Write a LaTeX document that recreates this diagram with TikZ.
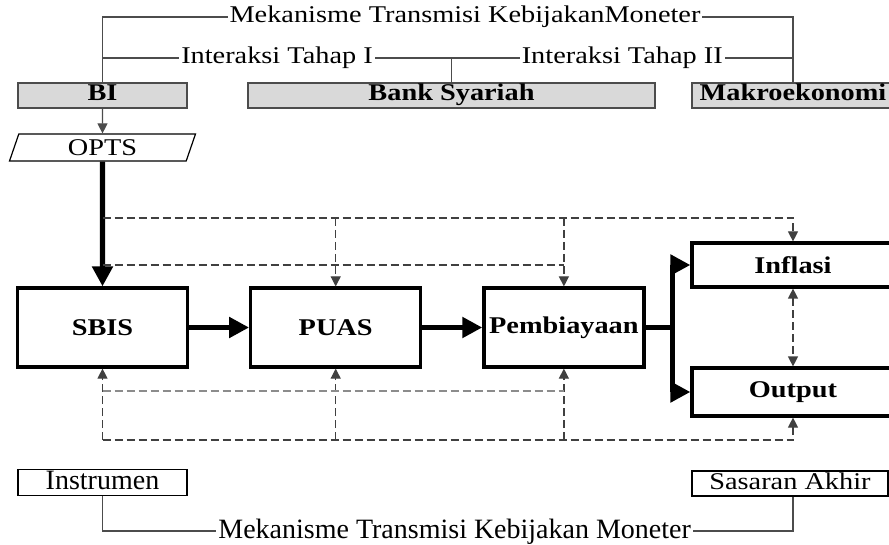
\documentclass[tikz,border=0pt]{standalone}
\usepackage{fontspec}
\setmainfont{Liberation Serif}
\newfontfamily\widefont[FakeStretch=1.18]{Liberation Serif}
\usetikzlibrary{positioning,arrows.meta,shapes.geometric}

\begin{document}
\begin{tikzpicture}[
    x=0.5pt, y=-0.5pt,
    font=\widefont\fontsize{12}{14}\selectfont,
    node distance=30pt,
    head/.style={draw=black!70, fill=black!15, line width=0.8pt, minimum height=12.5pt, inner sep=0pt, text height=8pt, text depth=2.5pt, font=\widefont\fontsize{12}{14}\selectfont\bfseries},
    block/.style={draw, line width=1.6pt, minimum width=85pt, minimum height=39.5pt, inner sep=2pt, font=\widefont\fontsize{12}{14}\selectfont\bfseries},
    target/.style={draw, line width=1.6pt, minimum width=101pt, minimum height=22pt, inner sep=0pt, font=\widefont\fontsize{12}{14}\selectfont\bfseries},
    tag/.style={draw, line width=0.6pt, minimum height=12.5pt, inner sep=0pt, text height=8pt, text depth=2.5pt},
    cond/.style={font=\fontsize{14}{16}\selectfont, text height=9.5pt, text depth=2.5pt},
    link/.style={draw=black!70, line width=0.6pt},
    lbl/.style={fill=white, inner sep=1pt},
    flow/.style={line width=2.6pt, line join=round, -{Triangle[width=10pt,length=10pt]}},
    effect/.style={black!75, line width=0.6pt, dash pattern=on 4pt off 2pt, >={Triangle[width=5pt,length=5pt]}, ->}
]
    \clip (0,0) rectangle (889,545);

    % header
    \node[head, minimum width=84.5pt] (BI) at (102.5,95.5) {BI};
    \node[head, minimum width=203.5pt] (bank) at (451.5,95.5) {Bank Syariah};
    \node[head, minimum width=101pt] (makro) at (793,95.5) {Makroekonomi};

    \coordinate (tl) at (102.5,17);
    \coordinate (tr) at (793,17);
    \coordinate (il) at (102.5,58);
    \coordinate (im) at (451.5,58);
    \coordinate (ir) at (793,58);
    \draw[link] (BI.north) -- (tl) -- node[lbl, pos=0.525] {Mekanisme Transmisi KebijakanMoneter} (tr) -- (makro.north);
    \draw[link] (il) -- node[lbl] {Interaksi Tahap I} (im) -- node[lbl] {Interaksi Tahap II} (ir);
    \draw[link] (im) -- (bank.north);

    % transmission chain
    \node[draw, trapezium, trapezium left angle=60, trapezium right angle=120, trapezium stretches body,
          minimum width=93pt, minimum height=13.5pt, inner sep=0pt, line width=0.6pt] (opts) at (102.5,147.5) {OPTS};
    \node[block] (sbis) at (102.5,327.5) {SBIS};
    \node[block, right=of sbis] (puas) {PUAS};
    \node[block, minimum width=80pt, right=of puas] (pemb) {Pembiayaan};
    \node[target] (infl) at (793,265) {Inflasi};
    \node[target, minimum height=24pt] (outp) at (793,392) {Output};
    \coordinate[right=13.5pt of pemb.east] (split);

    \draw[link, -{Triangle[width=5pt,length=5pt]}] (BI.south) -- (opts.north);
    \draw[flow] (opts.south) -- (sbis.north);
    \draw[flow] (sbis) -- (puas);
    \draw[flow] (puas) -- (pemb);
    \draw[line width=2.6pt] (pemb.east) -- (split);
    \draw[flow] (split) |- (infl.west);
    \draw[flow] (split) |- (outp.west);
    \draw[effect, <->] (infl.south) -- (outp.north);

    % dashed feedback lines
    \coordinate (d1) at (102.5,218);
    \coordinate (d2) at (102.5,265);
    \coordinate (d3) at (102.5,391);
    \coordinate (d4) at (102.5,440);
    \draw[effect] (d1) -| (infl.north);
    \draw[effect] (d1 -| puas.north) -- (puas.north);
    \draw[effect] (d1 -| pemb.north) -- (pemb.north);
    \draw[effect, -] (d2) -- (d2 -| pemb.north);
    \draw[effect] (d4) -| (outp.south);
    \draw[effect] (d4) -- (sbis.south);
    \draw[effect] (d4 -| puas.south) -- (puas.south);
    \draw[effect] (d4 -| pemb.south) -- (pemb.south);
    \draw[effect, -, black!45] (d3) -- (d3 -| pemb.south);

    % footer
    \node[tag, cond, minimum width=84.5pt, minimum height=13pt] (instr) at (102.5,482.5) {Instrumen};
    \node[tag, minimum width=98pt] (sasaran) at (790,483.5) {Sasaran Akhir};
    \coordinate (bl) at (102.5,531);
    \coordinate (br) at (793,531);
    \draw[link] (instr.south) -- (bl) -- node[lbl, cond, inner sep=1pt, pos=0.51] {Mekanisme Transmisi Kebijakan Moneter} (br) -- (br |- sasaran.south);
\end{tikzpicture}
\end{document}
